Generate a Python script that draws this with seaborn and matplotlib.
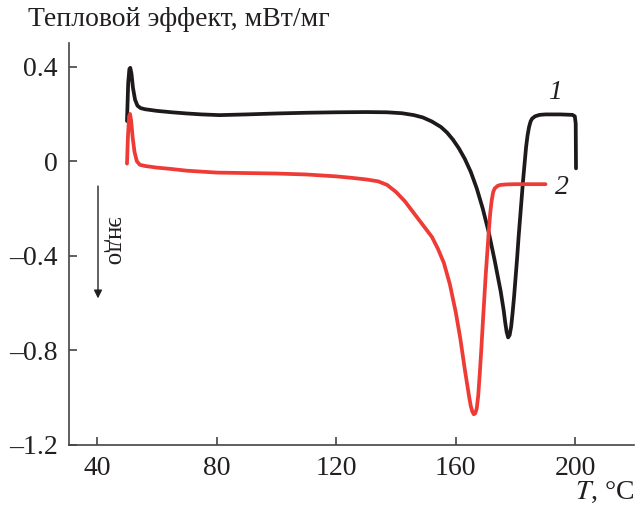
import numpy as np
import pandas as pd
import matplotlib
matplotlib.use("Agg")
import matplotlib.pyplot as plt
import seaborn as sns

# ---- data ----
T1 = [50.0, 50.4, 50.8, 51.1, 51.5, 52.0, 52.7, 53.5, 54.5, 56, 60, 65, 70, 75, 81, 90,
      100, 110, 120, 130, 137, 142, 146, 149, 152, 155, 157, 159, 161, 163, 165, 167,
      169, 171, 173, 175, 176.0, 176.5, 177.0, 177.5, 178.0, 178.5, 179.0, 179.5, 180.0,
      180.5, 181.0, 181.5, 182.0, 182.5, 183.0, 183.5, 184.0, 184.5, 185.0, 185.5,
      186.5, 188, 190, 195, 199, 199.8, 200.1, 200.2]
Q1 = [0.17, 0.33, 0.39, 0.395, 0.37, 0.31, 0.26, 0.235, 0.225, 0.22, 0.213, 0.207, 0.202,
      0.198, 0.195, 0.198, 0.202, 0.205, 0.207, 0.208, 0.207, 0.203, 0.195, 0.185, 0.168,
      0.145, 0.122, 0.092, 0.055, 0.01, -0.045, -0.115, -0.2, -0.3, -0.42, -0.55, -0.63,
      -0.68, -0.722, -0.745, -0.735, -0.70, -0.64, -0.57, -0.49, -0.41, -0.32, -0.24,
      -0.16, -0.08, -0.01, 0.06, 0.11, 0.145, 0.168, 0.18, 0.19, 0.196, 0.198, 0.198,
      0.196, 0.19, 0.16, -0.03]

T2 = [50.0, 50.3, 50.7, 51.0, 51.4, 51.9, 52.5, 53.3, 54.3, 56, 60, 65, 70, 80, 90, 100,
      110, 115, 120, 125, 130, 134, 137, 140, 143, 146, 149, 152, 154, 156, 158, 160,
      161.5, 163, 164.0, 164.5, 165.0, 165.5, 166.0, 166.5, 167.0, 167.5, 168.0, 168.5,
      169.0, 170.0, 171.0, 171.5, 172.0, 172.5, 173.0, 174.0, 175.0, 177, 180, 185, 190]
Q2 = [-0.01, 0.1, 0.19, 0.2, 0.17, 0.1, 0.04, 0.0, -0.015, -0.02, -0.027, -0.033, -0.04,
      -0.048, -0.05, -0.052, -0.056, -0.06, -0.064, -0.07, -0.077, -0.085, -0.1, -0.13,
      -0.17, -0.22, -0.27, -0.32, -0.37, -0.43, -0.52, -0.64, -0.75, -0.88, -0.96, -1.0,
      -1.035, -1.058, -1.07, -1.066, -1.045, -0.99, -0.9, -0.8, -0.69, -0.48, -0.3,
      -0.22, -0.165, -0.13, -0.115, -0.104, -0.1, -0.098, -0.097, -0.097, -0.097]

series_labels = ["1", "2"]
x_ticks = [40, 80, 120, 160, 200]
y_ticks = [0.4, 0, -0.4, -0.8, -1.2]
y_ticklabels = ["0.4", "0", "\u20130.4", "\u20130.8", "\u20131.2"]
title = "Тепловой эффект, мВт/мг"
endo_text = "эндо"

# ---- style ----
sns.set_style("ticks")
plt.rcParams["font.family"] = ["Liberation Serif", "DejaVu Serif"]
plt.rcParams["mathtext.fontset"] = "stix"

BLACK = "#1e1a1b"
RED = "#ee3b36"
AX = "#444444"
TXT = "#231f20"
FS = 20

fig = plt.figure(figsize=(6.38, 5.05), dpi=100)
ax = fig.add_axes([69 / 638, 60 / 505, (634 - 69) / 638, (445 - 43) / 505])

d1 = pd.DataFrame({"T": T1, "Q": Q1})
d2 = pd.DataFrame({"T": T2, "Q": Q2})
sns.lineplot(data=d1, x="T", y="Q", ax=ax, sort=False, estimator=None,
             color=BLACK, linewidth=2.7)
sns.lineplot(data=d2, x="T", y="Q", ax=ax, sort=False, estimator=None,
             color=RED, linewidth=2.7)

ax.set_xlim(30.6, 219.6)
ax.set_ylim(-1.2, 0.5)
ax.set_xticks(x_ticks)
ax.set_xticklabels([str(v) for v in x_ticks])
ax.set_yticks(y_ticks)
ax.set_yticklabels(y_ticklabels)
ax.set_xlabel("")
ax.set_ylabel("")

for s in ["top", "right"]:
    ax.spines[s].set_visible(False)
for s in ["left", "bottom"]:
    ax.spines[s].set_color(AX)
    ax.spines[s].set_linewidth(1.2)
ax.tick_params(direction="in", length=6, width=1.2, color=AX,
               labelsize=FS, labelcolor=TXT, pad=8)

# curve labels
ax.text(193.2, 0.29, series_labels[0], fontsize=FS, style="italic",
        ha="center", va="center", color=TXT)
ax.text(195.5, -0.11, series_labels[1], fontsize=FS, style="italic",
        ha="center", va="center", color=TXT)

# endo arrow
ax.annotate("", xy=(40.3, -0.58), xytext=(40.3, -0.105),
            arrowprops=dict(arrowstyle="-|>", color=TXT, lw=1.0,
                            mutation_scale=12, shrinkA=0, shrinkB=0))
ax.text(45.3, -0.335, endo_text, rotation=-90, fontsize=18,
        ha="center", va="center", color=TXT)

# title & x-axis label
fig.text(28 / 638, 1 - 20 / 505, title, fontsize=FS, ha="left", va="center",
         color=TXT)
fig.text(634 / 638, 1 - 492 / 505, "$\\mathit{T}$, °C", fontsize=FS,
         ha="right", va="center", color=TXT)

fig.savefig("out.png", dpi=100)
